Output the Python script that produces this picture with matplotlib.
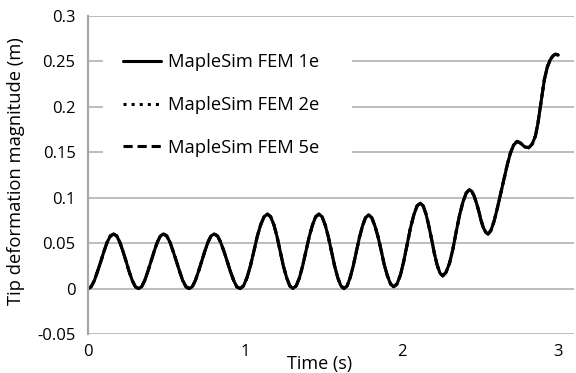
import matplotlib
matplotlib.use("Agg")
import matplotlib.pyplot as plt
from matplotlib.patches import Rectangle

plt.rcParams['font.family'] = ['Open Sans', 'DejaVu Sans']

# time (s) (one row per half swing)
time_s = [0.0, 0.020, 0.041, 0.061, 0.082, 0.102, 0.122, 0.143,
          0.163, 0.183, 0.203, 0.223, 0.243, 0.262, 0.282, 0.302,
          0.322, 0.342, 0.362, 0.382, 0.402, 0.422, 0.442, 0.462,
          0.482, 0.502, 0.523, 0.543, 0.564, 0.584, 0.604, 0.625,
          0.645, 0.665, 0.685, 0.705, 0.725, 0.745, 0.765, 0.785,
          0.805, 0.826, 0.846, 0.867, 0.888, 0.908, 0.929, 0.949,
          0.970, 0.992, 1.014, 1.036, 1.058, 1.079, 1.101, 1.123,
          1.145, 1.165, 1.186, 1.206, 1.226, 1.246, 1.267, 1.287,
          1.307, 1.328, 1.349, 1.369, 1.390, 1.411, 1.432, 1.452,
          1.473, 1.493, 1.513, 1.533, 1.553, 1.573, 1.593, 1.613,
          1.633, 1.653, 1.672, 1.692, 1.712, 1.731, 1.751, 1.770,
          1.790, 1.810, 1.830, 1.850, 1.870, 1.890, 1.910, 1.930,
          1.950, 1.971, 1.993, 2.014, 2.035, 2.056, 2.078, 2.099,
          2.120, 2.138, 2.156, 2.174, 2.192, 2.209, 2.227, 2.245,
          2.263, 2.284, 2.306, 2.327, 2.348, 2.369, 2.391, 2.412,
          2.433, 2.448, 2.463, 2.478, 2.493, 2.507, 2.522, 2.537,
          2.552, 2.570, 2.590, 2.609, 2.630, 2.652, 2.674, 2.694,
          2.715, 2.737, 2.760, 2.785, 2.811, 2.833, 2.854, 2.870,
          2.885, 2.898, 2.911, 2.930, 2.949, 2.965, 2.981, 3.000]

# tip deformation magnitude (m)
fem_1e = [0.0, 0.002, 0.009, 0.019, 0.030, 0.041, 0.051, 0.058,
          0.060, 0.058, 0.051, 0.041, 0.030, 0.019, 0.009, 0.002,
          0.0, 0.002, 0.009, 0.019, 0.030, 0.041, 0.051, 0.058,
          0.060, 0.058, 0.051, 0.041, 0.030, 0.019, 0.009, 0.002,
          0.0, 0.002, 0.009, 0.019, 0.030, 0.041, 0.051, 0.058,
          0.060, 0.058, 0.051, 0.041, 0.030, 0.019, 0.009, 0.002,
          0.0, 0.003, 0.012, 0.025, 0.041, 0.057, 0.070, 0.079,
          0.082, 0.079, 0.070, 0.057, 0.041, 0.025, 0.012, 0.003,
          0.0, 0.003, 0.012, 0.025, 0.041, 0.057, 0.070, 0.079,
          0.082, 0.079, 0.070, 0.057, 0.041, 0.025, 0.012, 0.003,
          0.0, 0.003, 0.012, 0.025, 0.041, 0.056, 0.069, 0.078,
          0.081, 0.078, 0.069, 0.057, 0.042, 0.026, 0.014, 0.005,
          0.002, 0.005, 0.015, 0.030, 0.048, 0.066, 0.081, 0.091,
          0.094, 0.091, 0.082, 0.069, 0.054, 0.039, 0.026, 0.017,
          0.014, 0.018, 0.028, 0.043, 0.062, 0.080, 0.095, 0.105,
          0.109, 0.107, 0.102, 0.094, 0.085, 0.075, 0.067, 0.062,
          0.060, 0.064, 0.074, 0.087, 0.103, 0.120, 0.136, 0.149,
          0.158, 0.162, 0.160, 0.156, 0.155, 0.159, 0.168, 0.182,
          0.200, 0.215, 0.230, 0.244, 0.252, 0.256, 0.258, 0.257]
# the 2e and 5e results lie right on top of the 1e curve
fem_2e = list(fem_1e)
fem_5e = list(fem_1e)

labels = ['MapleSim FEM 1e', 'MapleSim FEM 2e', 'MapleSim FEM 5e']
y_ticks = [-0.05, 0, 0.05, 0.1, 0.15, 0.2, 0.25, 0.3]
y_tick_labels = ['-0.05', '0', '0.05', '0.1', '0.15', '0.2', '0.25', '0.3']
x_ticks = [0, 1, 2, 3]

fig = plt.figure(figsize=(5.76, 3.73), dpi=100)
ax = fig.add_axes([88 / 576, 39 / 373, 486 / 576, 318 / 373])

kw = dict(color='black', lw=2.2, solid_joinstyle='round', solid_capstyle='round')
ax.plot(time_s, fem_1e, '-', label=labels[0], **kw)
ax.plot(time_s, fem_2e, ':', label=labels[1], **kw)
ax.plot(time_s, fem_5e, '--', dashes=(3, 1.6), label=labels[2], **kw)

ax.set_xlim(0, 3.1)
ax.set_ylim(-0.05, 0.3)
ax.set_xticks(x_ticks)
ax.set_yticks(y_ticks)
ax.set_yticklabels(y_tick_labels)
ax.tick_params(length=0, labelsize=12, colors='black')
ax.tick_params(axis='y', pad=9)
ax.tick_params(axis='x', pad=7)
ax.grid(axis='y', color='#bdbdbd', lw=1.4)
ax.set_axisbelow(True)
for s in ['top', 'right', 'bottom']:
    ax.spines[s].set_visible(False)
ax.spines['left'].set_color('#a6a6a6')
ax.spines['left'].set_linewidth(1.6)

ax.set_xlabel('Time (s)', fontsize=13)
ax.xaxis.set_label_coords(0.477, -0.065)
ax.set_ylabel('Tip deformation magnitude (m)', fontsize=13.2)
ax.yaxis.set_label_coords(-0.13, 0.511)

# white legend background, wider than the legend text
ax.add_patch(Rectangle((0.031, 0.50), 0.512, 0.42, transform=ax.transAxes,
                       facecolor='white', edgecolor='none', zorder=1.5))
ax.legend(loc='upper left', bbox_to_anchor=(0.072, 0.883), fontsize=13.2,
          frameon=False, handlelength=2.1, handletextpad=0.35,
          labelspacing=1.35, borderpad=0, borderaxespad=0)

fig.savefig('out.png', dpi=100)
